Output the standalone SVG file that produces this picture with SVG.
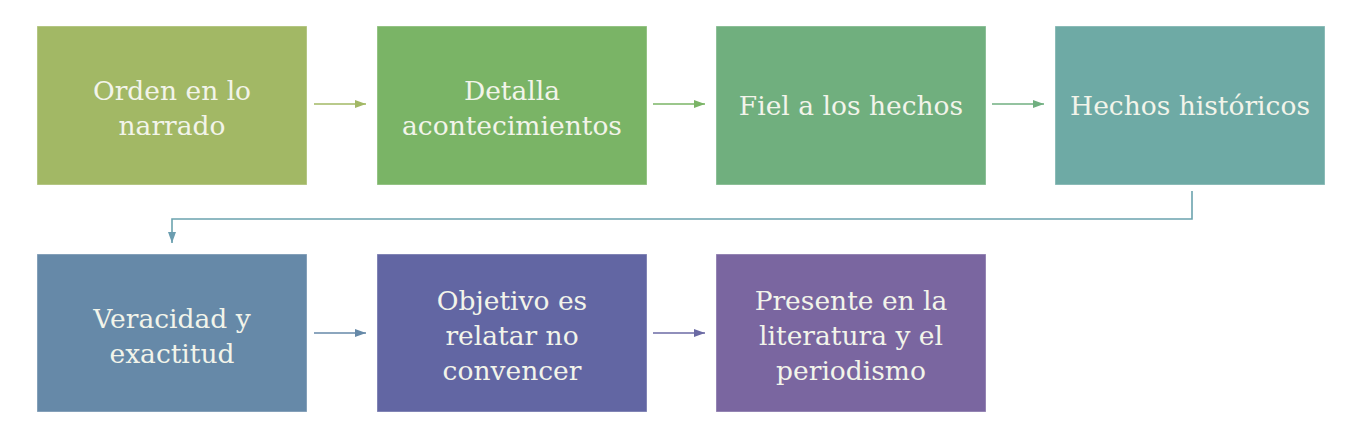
<svg xmlns="http://www.w3.org/2000/svg" width="1364" height="440" viewBox="0 0 1364 440">
<defs>
<style>
.box{stroke:#ffffff;stroke-opacity:0.4;stroke-width:1}
.t{font-family:"DejaVu Serif","Liberation Serif",serif;font-size:26.5px;fill:#f2f4ea;text-anchor:middle}
.c{fill:none;stroke-width:1.6}
</style>
<marker id="a1" markerWidth="11" markerHeight="8" refX="11" refY="4" orient="auto" markerUnits="userSpaceOnUse"><path d="M0,0 L11,4 L0,8 Z" fill="#a2b865"/></marker>
<marker id="a2" markerWidth="11" markerHeight="8" refX="11" refY="4" orient="auto" markerUnits="userSpaceOnUse"><path d="M0,0 L11,4 L0,8 Z" fill="#7ab466"/></marker>
<marker id="a3" markerWidth="11" markerHeight="8" refX="11" refY="4" orient="auto" markerUnits="userSpaceOnUse"><path d="M0,0 L11,4 L0,8 Z" fill="#70af80"/></marker>
<marker id="a4" markerWidth="11" markerHeight="8" refX="11" refY="4" orient="auto" markerUnits="userSpaceOnUse"><path d="M0,0 L11,4 L0,8 Z" fill="#6b9db0"/></marker>
<marker id="a5" markerWidth="11" markerHeight="8" refX="11" refY="4" orient="auto" markerUnits="userSpaceOnUse"><path d="M0,0 L11,4 L0,8 Z" fill="#6689a8"/></marker>
<marker id="a6" markerWidth="11" markerHeight="8" refX="11" refY="4" orient="auto" markerUnits="userSpaceOnUse"><path d="M0,0 L11,4 L0,8 Z" fill="#6b6aa4"/></marker>
</defs>
<rect width="1364" height="440" fill="#ffffff"/>
<g id="connectors">
<path class="c" stroke="#a2b865" d="M314,104 H366" marker-end="url(#a1)"/>
<path class="c" stroke="#7ab466" d="M653,104 H705" marker-end="url(#a2)"/>
<path class="c" stroke="#70af80" d="M992,104 H1044" marker-end="url(#a3)"/>
<path class="c" stroke="#6ba3ae" d="M1192,191 V219 H172 V243" marker-end="url(#a4)"/>
<path class="c" stroke="#6689a8" d="M314,333 H366" marker-end="url(#a5)"/>
<path class="c" stroke="#6b6aa4" d="M653,333 H705" marker-end="url(#a6)"/>
</g>
<g id="n1"><rect class="box" x="37" y="26" width="270" height="159" fill="#a2b865"/>
<text class="t"><tspan x="172" y="100">Orden en lo</tspan><tspan x="172" y="135">narrado</tspan></text></g>
<g id="n2"><rect class="box" x="377" y="26" width="270" height="159" fill="#7ab466"/>
<text class="t"><tspan x="512" y="100">Detalla</tspan><tspan x="512" y="135">acontecimientos</tspan></text></g>
<g id="n3"><rect class="box" x="716" y="26" width="270" height="159" fill="#70af7e"/>
<text class="t" x="851" y="115">Fiel a los hechos</text></g>
<g id="n4"><rect class="box" x="1055" y="26" width="270" height="159" fill="#6eaaa5"/>
<text class="t" x="1190" y="115">Hechos históricos</text></g>
<g id="n5"><rect class="box" x="37" y="254" width="270" height="158" fill="#6689a8"/>
<text class="t"><tspan x="172" y="328">Veracidad y</tspan><tspan x="172" y="363">exactitud</tspan></text></g>
<g id="n6"><rect class="box" x="377" y="254" width="270" height="158" fill="#6266a3"/>
<text class="t"><tspan x="512" y="310">Objetivo es</tspan><tspan x="512" y="345">relatar no</tspan><tspan x="512" y="380">convencer</tspan></text></g>
<g id="n7"><rect class="box" x="716" y="254" width="270" height="158" fill="#7a66a0"/>
<text class="t"><tspan x="851" y="310">Presente en la</tspan><tspan x="851" y="345">literatura y el</tspan><tspan x="851" y="380">periodismo</tspan></text></g>
</svg>
